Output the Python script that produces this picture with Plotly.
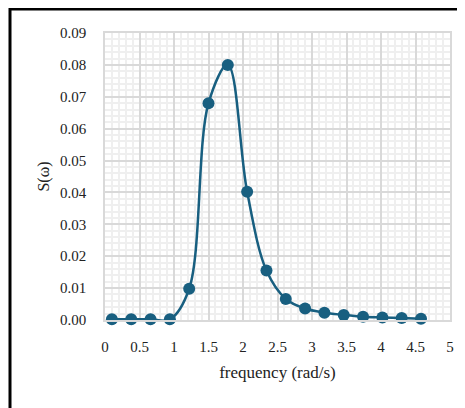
import plotly.graph_objects as go

frequency = [0.10, 0.38, 0.66, 0.94, 1.22, 1.50, 1.78, 2.06, 2.34, 2.62, 2.90, 3.18, 3.46, 3.74, 4.02, 4.30, 4.58]
spectrum = [0.0002, 0.0002, 0.0002, 0.0002, 0.0098, 0.0680, 0.0800, 0.0402, 0.0155, 0.0066, 0.0036, 0.0023, 0.0016, 0.0010, 0.0008, 0.0006, 0.0004]
x_ticks = [0, 0.5, 1, 1.5, 2, 2.5, 3, 3.5, 4, 4.5, 5]
x_labels = ["0", "0.5", "1", "1.5", "2", "2.5", "3", "3.5", "4", "4.5", "5"]
y_ticks = [0, 0.01, 0.02, 0.03, 0.04, 0.05, 0.06, 0.07, 0.08, 0.09]
y_labels = ["0.00", "0.01", "0.02", "0.03", "0.04", "0.05", "0.06", "0.07", "0.08", "0.09"]

# the page body has an 8px default margin, so the figure starts at (8, 8)
OFF = 8
W, H = 465 - OFF, 408 - OFF
L, R, T, B = 105 - OFF, 15, 33 - OFF, 88
pw, ph = W - L - R, H - T - B

color = "#185F80"
font = "Liberation Serif, Times New Roman, serif"

fig = go.Figure()
fig.add_trace(go.Scatter(
    x=frequency, y=spectrum, mode="lines+markers",
    line=dict(color=color, width=2.5, shape="spline", smoothing=1.0),
    marker=dict(color=color, size=12),
    cliponaxis=False, showlegend=False,
))

grid_major = "#d9d9d9"
minor_grid = dict(showgrid=True, gridcolor="#efefef", gridwidth=2)

fig.update_xaxes(
    range=[0, 5], tickvals=x_ticks, ticktext=x_labels, automargin=False,
    showgrid=True, gridcolor=grid_major, gridwidth=1.5,
    minor=dict(dtick=0.1, **minor_grid),
    showline=True, linecolor=grid_major, linewidth=1.5, mirror=True,
    ticks="", ticklabelstandoff=12, zeroline=False,
    tickfont=dict(family=font, size=15, color="#222"),
    title=dict(text="frequency (rad/s)", font=dict(family=font, size=17, color="#222"), standoff=12),
)
fig.update_yaxes(
    range=[0, 0.09], tickvals=y_ticks, ticktext=y_labels, automargin=False,
    showgrid=True, gridcolor=grid_major, gridwidth=1.5,
    minor=dict(dtick=0.002, **minor_grid),
    showline=True, linecolor=grid_major, linewidth=1.5, mirror=True,
    ticks="", ticklabelstandoff=14, zeroline=False,
    tickfont=dict(family=font, size=15, color="#222"),
    title=dict(text="S(ω)", font=dict(family=font, size=16, color="#222"), standoff=6),
)

# outer black frame (clipped at right and bottom in the reference)
fx0, fy0 = 10 - OFF, 9 - OFF   # frame left / top in figure pixels
fig.add_shape(type="rect", xref="paper", yref="paper",
              x0=(fx0 - L) / pw, x1=(W + 20 - L) / pw,
              y0=(H - B - (H + 20)) / ph, y1=(H - B - fy0) / ph,
              line=dict(color="black", width=3), layer="below")

fig.update_layout(
    width=W, height=H, margin=dict(l=L, r=R, t=T, b=B),
    paper_bgcolor="white", plot_bgcolor="white",
)
fig.write_html("out.html")
